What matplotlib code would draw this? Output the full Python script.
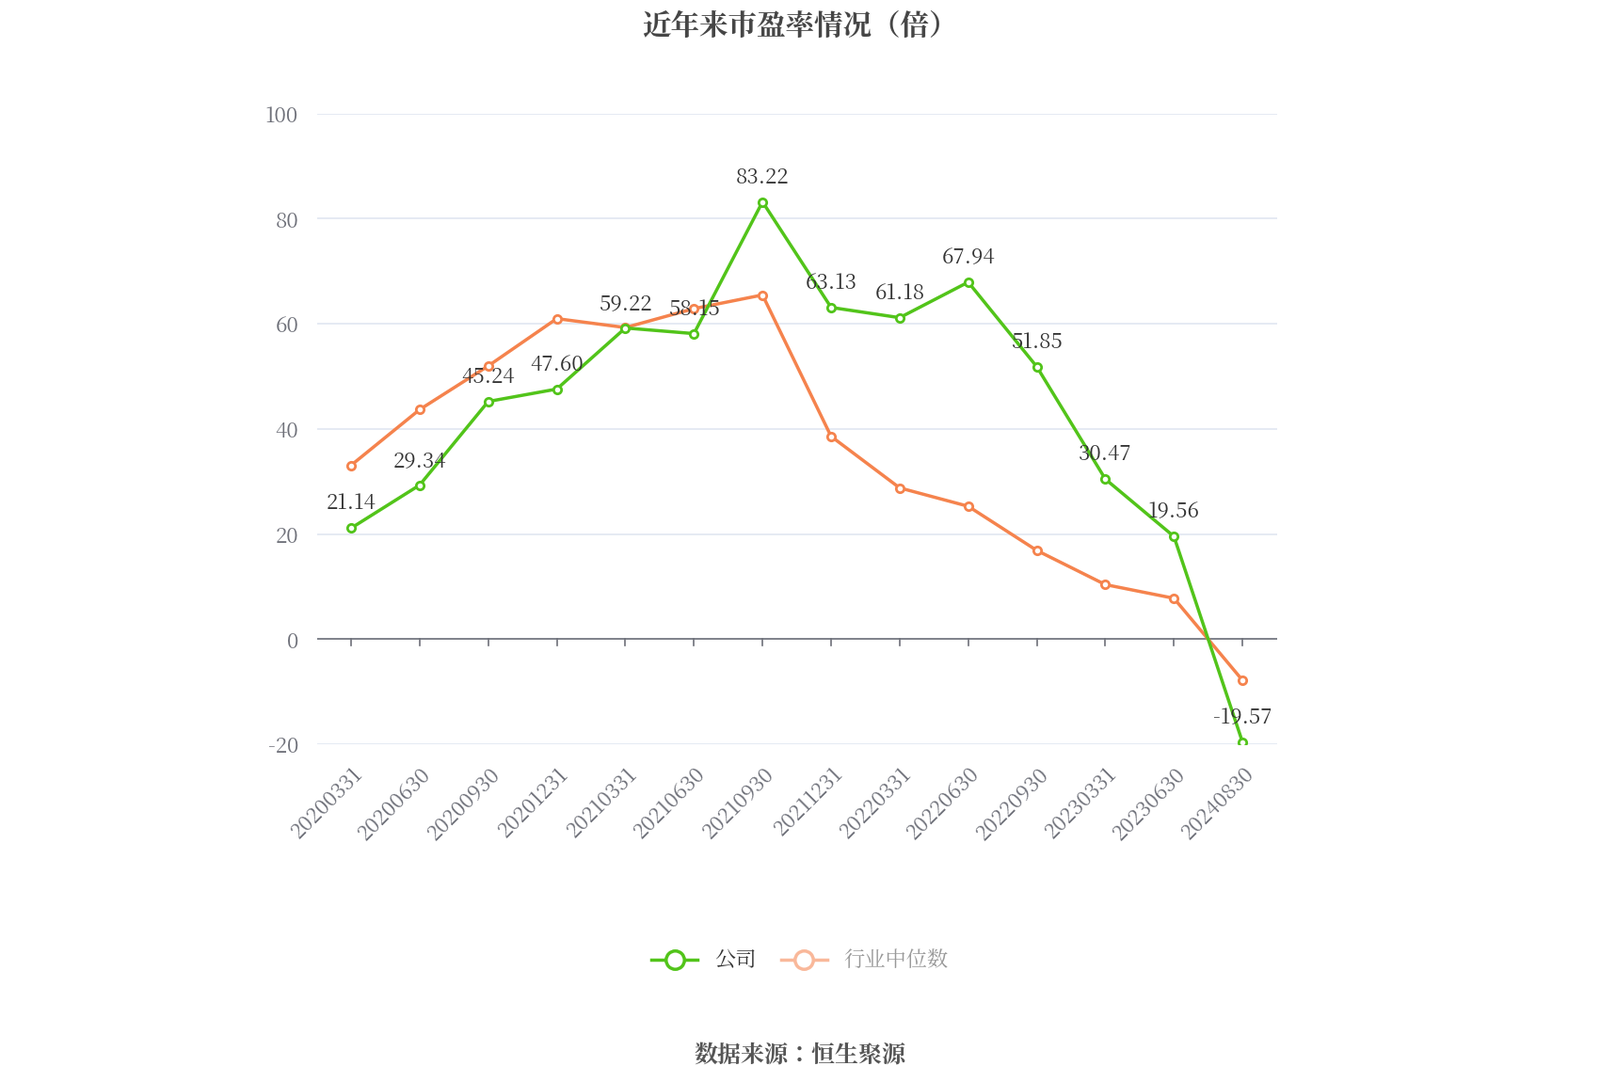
import matplotlib.pyplot as plt
from matplotlib import font_manager as fm
from matplotlib.lines import Line2D

cjk = 'Noto Sans CJK SC'
for f in fm.findSystemFonts():
    if 'CJK' in f or 'cjk' in f:
        try:
            fm.fontManager.addfont(f)
        except Exception:
            pass
names = {f.name for f in fm.fontManager.ttflist}
if cjk not in names:
    for n in names:
        if 'CJK' in n:
            cjk = n
            break
plt.rcParams['font.family'] = [cjk, 'DejaVu Sans']
plt.rcParams['axes.unicode_minus'] = False

dates = ['20200331', '20200630', '20200930', '20201231', '20210331', '20210630', '20210930',
         '20211231', '20220331', '20220630', '20220930', '20230331', '20230630', '20240830']
company = [21.14, 29.34, 45.24, 47.60, 59.22, 58.15, 83.22, 63.13, 61.18, 67.94, 51.85, 30.47, 19.56, -19.57]
industry = [33.1, 43.7, 52.0, 61.0, 59.3, 62.9, 65.5, 38.6, 28.8, 25.3, 16.9, 10.4, 7.8, -7.8]

green = '#52c41a'
orange = '#f5834d'

fig = plt.figure(figsize=(17, 11.5), dpi=100)
ax = fig.add_axes([0.198, 0.312, 0.6, 0.583])
x = list(range(len(dates)))

ax.plot(x, industry, color=orange, lw=2.5, marker='o', ms=6, mfc='white', mew=2, zorder=3)
ax.plot(x, company, color=green, lw=2.5, marker='o', ms=6, mfc='white', mew=2, zorder=4)
for xi, v in zip(x, company):
    ax.annotate(f'{v:.2f}', (xi, v), xytext=(0, 10), textcoords='offset points',
                ha='center', va='bottom', fontsize=16, color='#333333', zorder=5)

ax.set_xlim(-0.5, len(dates) - 0.5)
ax.set_ylim(-20, 100)
ax.set_yticks(range(-20, 101, 20))
ax.grid(axis='y', color='#e0e6f1', lw=1.2)
ax.set_axisbelow(True)
for s in ['top', 'right', 'left', 'bottom']:
    ax.spines[s].set_visible(False)
ax.axhline(0, color='#6e7079', lw=1.2, zorder=2)
ax.tick_params(axis='y', length=0, labelsize=16, labelcolor='#6e7079', pad=14)
ax.set_xticks(x)
ax.set_xticklabels(dates, rotation=45, ha='right', rotation_mode='anchor', fontsize=16, color='#6e7079')
ax.tick_params(axis='x', length=0, pad=14)
for xi in x:
    ax.plot([xi, xi], [0, -1.2], color='#6e7079', lw=1.2, zorder=2, clip_on=False)

fig.text(0.5, 0.975, '近年来市盈率情况（倍）', ha='center', va='center', fontsize=22,
         fontweight='bold', color='#464646')

handles = [Line2D([], [], color=green, lw=2.5, marker='o', ms=14, mfc='white', mew=2.5),
           Line2D([], [], color='#f9b89a', lw=2.5, marker='o', ms=14, mfc='white', mew=2.5)]
leg = fig.legend(handles, ['公司', '行业中位数'], loc='center', bbox_to_anchor=(0.5, 0.112),
                 ncol=2, frameon=False, fontsize=16, handlelength=2.2, columnspacing=1.2)
leg.get_texts()[0].set_color('#333333')
leg.get_texts()[1].set_color('#999999')

fig.text(0.5, 0.025, '数据来源：恒生聚源', ha='center', va='center', fontsize=18,
         fontweight='bold', color='#555555')

fig.savefig('out.png')
